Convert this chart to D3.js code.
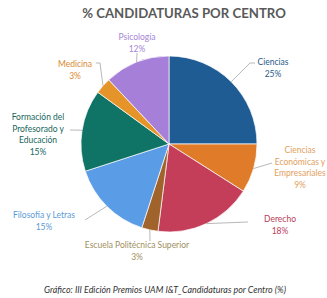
<!DOCTYPE html>
<html>
<head>
<meta charset="utf-8">
<script src="https://cdn.jsdelivr.net/npm/d3@7"></script>
<style>
  body { margin: 0; background: #fff; }
  svg { display: block; font-family: Lato, "Open Sans", sans-serif; }
</style>
</head>
<body>
<div id="chart"></div>
<script>
// data
var centros = ["Ciencias", "Ciencias Económicas y Empresariales", "Derecho", "Escuela Politécnica Superior",
               "Filosofía y Letras", "Formación del Profesorado y Educación", "Medicina", "Psicología"];
var porcentajes = [25, 9, 18, 3, 15, 15, 3, 12];
var colores = ["#1f5c94", "#e07b2a", "#c43e5a", "#a0632c", "#5a9ce6", "#0f7466", "#e5942a", "#a57fd8"];
var coloresTexto = ["#2a5a8a", "#e2a060", "#b8405a", "#a0905e", "#5b9bd5", "#17665c", "#d98a30", "#a585d6"];

// label lines (text broken as in the original)
var lineas = {
  "Ciencias": ["Ciencias"],
  "Ciencias Económicas y Empresariales": ["Ciencias", "Económicas y", "Empresariales"],
  "Derecho": ["Derecho"],
  "Escuela Politécnica Superior": ["Escuela Politécnica Superior"],
  "Filosofía y Letras": ["Filosofía y Letras"],
  "Formación del Profesorado y Educación": ["Formación del", "Profesorado y", "Educación"],
  "Medicina": ["Medicina"],
  "Psicología": ["Psicología"]
};

var width = 327, height = 298,
    cx = 169, cy = 144, radius = 88, lh = 11.5;

// label layout: text center/first baseline, leader elbow, leader end (relative to pie center)
var layout = {
  "Ciencias":                               {tx: 104, ty: -79, elbow: [81, -81], end: [86, -81]},
  "Ciencias Económicas y Empresariales":    {tx: 131, ty: 9,   elbow: [103, 19], end: [103, 19]},
  "Derecho":                                {tx: 111, ty: 78,  elbow: [79, 78],  end: [79, 78]},
  "Escuela Politécnica Superior":           {tx: -32, ty: 104, elbow: [-19, 97], end: [-19, 97]},
  "Filosofía y Letras":                     {tx: -125, ty: 74, elbow: [-84, 76], end: [-84, 76]},
  "Formación del Profesorado y Educación":  {tx: -131, ty: -24, elbow: [-99, -14], end: [-99, -14]},
  "Medicina":                               {tx: -94, ty: -77, elbow: [-69, -81], end: [-73, -81]},
  "Psicología":                             {tx: -32, ty: -104, elbow: [-32, -91], end: [-32, -91]}
};

var data = centros.map(function(c, i) {
  return {centro: c, valor: porcentajes[i], color: colores[i], colorTexto: coloresTexto[i]};
});

var svg = d3.select("#chart").append("svg")
  .attr("width", width)
  .attr("height", height);

svg.append("text")
  .attr("x", 184)
  .attr("y", 18)
  .attr("text-anchor", "middle")
  .attr("font-size", "13.2px")
  .attr("font-weight", "bold")
  .attr("fill", "#595959")
  .text("% CANDIDATURAS POR CENTRO");

var g = svg.append("g")
  .attr("transform", "translate(" + cx + "," + cy + ")");

var pie = d3.pie()
  .sort(null)
  .value(function(d) { return d.valor; });

var arc = d3.arc().innerRadius(0).outerRadius(radius);

var arcs = pie(data);

g.selectAll(".slice")
  .data(arcs)
  .enter().append("path")
    .attr("class", "slice")
    .attr("d", arc)
    .attr("fill", function(d) { return d.data.color; })
    .attr("stroke", "#fff")
    .attr("stroke-width", 0.7);

// leader lines from the slice edge
g.selectAll(".leader")
  .data(arcs)
  .enter().append("polyline")
    .attr("class", "leader")
    .attr("fill", "none")
    .attr("stroke", "#a6a6a6")
    .attr("stroke-width", 0.8)
    .attr("points", function(d) {
      var a = (d.startAngle + d.endAngle) / 2;
      var p = [Math.sin(a) * radius, -Math.cos(a) * radius];
      var L = layout[d.data.centro];
      return [p, L.elbow, L.end].join(" ");
    });

var labels = g.selectAll(".label")
  .data(arcs)
  .enter().append("text")
    .attr("class", "label")
    .attr("text-anchor", "middle")
    .attr("font-size", "8.5px")
    .attr("fill", function(d) { return d.data.colorTexto; })
    .attr("transform", function(d) {
      var L = layout[d.data.centro];
      return "translate(" + L.tx + "," + L.ty + ")";
    });

labels.each(function(d) {
  var t = d3.select(this);
  var ls = lineas[d.data.centro].concat([d.data.valor + "%"]);
  ls.forEach(function(s, i) {
    t.append("tspan")
      .attr("x", 0)
      .attr("y", i * lh)
      .text(s);
  });
});

svg.append("text")
  .attr("x", 165)
  .attr("y", 293)
  .attr("text-anchor", "middle")
  .attr("font-size", "8.9px")
  .attr("font-style", "italic")
  .attr("fill", "#333")
  .text("Gráfico: III Edición Premios UAM I&T_Candidaturas por Centro (%)");
</script>
</body>
</html>
